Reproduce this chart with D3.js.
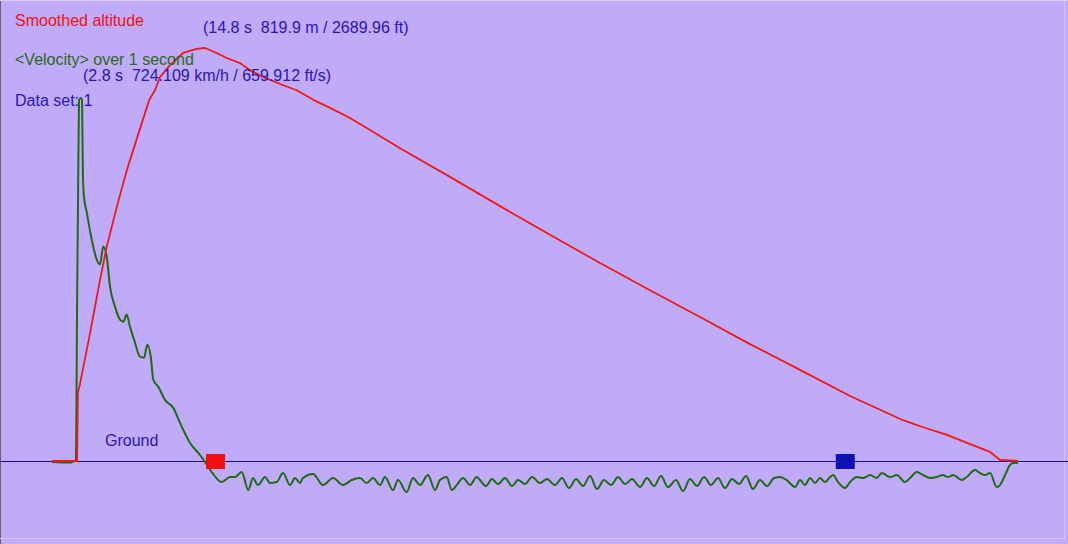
<!DOCTYPE html>
<html><head><meta charset="utf-8">
<script src="https://cdn.jsdelivr.net/npm/d3@7"></script>
<style>
html,body{margin:0;padding:0;background:#bfabf8;}
svg{display:block;}
text{font-family:"Liberation Sans",Arial,sans-serif;font-size:16px;white-space:pre;}
</style></head><body>
<svg id="c" width="1068" height="544"></svg>
<script>
// time (s) and altitude (m) of "Smoothed altitude"
const altTime = [0,2.32,2.42,2.51,2.71,3.68,4.64,5.29,6.26,7.22,8.19,9.16,9.41,9.96,10.44,11.41,12.67,13.99,14.8,15.93,16.9,18.18,19.15,20.44,22.37,23.67,25.27,26.89,28.82,30.43,33.66,38.49,43.33,48.16,53.0,57.83,62.67,67.5,72.34,77.18,82.3,84.24,86.56,88.49,90.72,91.68,93.42];
const altValue = [0,0,0,137,153,254,359,425,504,576,639,701,717,736,762,786,810,818,819.9,810,800,790,776,762,746,736,717,701,681,661,621,564,506,449,393,339,286,232,181,129,81,67,52,36,18,2,0];
// time (s) and velocity (km/h) of "<Velocity> over 1 second"
const velTime = [0,1.74,2.22,2.32,2.37,2.42,2.51,2.61,2.8,2.9,2.95,3.0,3.09,3.36,3.84,4.32,4.64,4.96,5.29,5.61,6.09,6.58,6.9,7.22,7.54,8.03,8.51,8.9,9.22,9.55,9.8,10.28,10.93,11.73,12.38,13.35,14.31,14.8,15.45,16.41,17.21,17.7,18.35,18.98,19.44,19.92,20.6,21.08,21.73,22.34,23.02,23.5,23.98,24.27,25.24,26.21,27.18,28.14,28.98,29.79,30.43,31.04,31.72,32.2,32.98,33.46,34.3,34.91,35.59,36.36,37.04,37.52,38.17,38.66,39.14,39.75,40.43,41.07,41.39,41.97,42.55,43.13,43.81,44.49,45.07,45.74,46.42,47.2,47.87,48.65,49.32,50.0,50.68,51.35,52.03,52.71,53.38,54.06,54.74,55.42,56.09,56.87,57.54,58.22,58.9,59.57,60.35,61.03,61.7,62.38,63.06,63.73,64.41,65.09,65.76,66.44,67.12,67.79,68.47,69.15,69.83,70.41,71.05,71.86,72.34,72.82,73.31,73.79,74.27,74.76,75.24,75.53,76.02,76.69,77.18,77.82,78.43,79.11,79.76,80.24,81.04,81.69,82.5,82.98,83.63,84.24,84.91,85.56,86.17,86.65,87.14,87.98,88.46,89.26,89.75,90.23,90.72,91.36,91.68,92.17,92.65,92.94,93.42];
const velValue = [-2,-3,0,0,122,301,495,720,724.109,720,640,560,528,496,442,402,392,428,408,348,308,282,278,292,268,236,208,206,232,208,162,148,122,106,76,36,12,-2,-22,-42,-32,-32,-22,-58,-34,-48,-32,-44,-42,-24,-48,-34,-44,-34,-26,-48,-34,-48,-38,-34,-44,-34,-48,-32,-58,-38,-62,-34,-48,-28,-58,-38,-32,-58,-48,-34,-48,-32,-38,-50,-36,-46,-34,-50,-38,-46,-32,-44,-36,-48,-34,-54,-36,-50,-30,-56,-38,-48,-32,-46,-36,-52,-34,-50,-30,-52,-38,-60,-36,-50,-32,-48,-34,-54,-36,-46,-30,-56,-38,-50,-34,-32,-38,-52,-38,-48,-34,-44,-34,-42,-32,-28,-42,-54,-42,-32,-34,-28,-34,-24,-32,-28,-42,-34,-22,-28,-34,-32,-28,-32,-28,-38,-32,-18,-24,-28,-24,-52,-48,-28,-8,-4,-4];
// marker times (s)
const markerTimes = [14.8, 75.7];
const markerColors = ["#f01010", "#1010b8"];
// labels
const labels = [
  {text:"Smoothed altitude", color:"#f01010", x:15, y:26},
  {text:"(14.8 s  819.9 m / 2689.96 ft)", color:"#2a14b8", x:203, y:33},
  {text:"<Velocity> over 1 second", color:"#2a6a14", x:15, y:65},
  {text:"(2.8 s  724.109 km/h / 659.912 ft/s)", color:"#2a14b8", x:83, y:81},
  {text:"Data set: 1", color:"#2a14b8", x:15, y:106},
  {text:"Ground", color:"#2a14b8", x:105, y:446}
];

const svg = d3.select("#c");
const W = 1068, H = 544;
svg.append("rect").attr("x",0).attr("y",0).attr("width",W).attr("height",H).attr("fill","#bfabf8");
// frame
svg.append("line").attr("x1",0.5).attr("x2",0.5).attr("y1",0).attr("y2",H).attr("stroke","#6e6068").attr("stroke-width",1);
svg.append("line").attr("x1",1064.5).attr("x2",1064.5).attr("y1",0).attr("y2",540).attr("stroke","#d4c6fb").attr("stroke-width",1);
svg.append("line").attr("x1",0).attr("x2",1065).attr("y1",538.5).attr("y2",538.5).attr("stroke","#d4c6fb").attr("stroke-width",1);
svg.append("line").attr("x1",0).attr("x2",W).attr("y1",0.5).attr("y2",0.5).attr("stroke","#d8ccfb").attr("stroke-width",1);

const x = d3.scaleLinear().domain([0, 93.42]).range([52, 1018]);
const yAlt = d3.scaleLinear().domain([0, 819.9]).range([461, 48]);
const yVel = d3.scaleLinear().domain([0, 724.109]).range([461, 98]);

// ground line
svg.append("line").attr("x1",0).attr("x2",W).attr("y1",yAlt(0)+0.5).attr("y2",yAlt(0)+0.5)
  .attr("stroke","#1e0c96").attr("stroke-width",1.2);

const velData = velTime.map((t,i)=>[t, velValue[i]]);
const altData = altTime.map((t,i)=>[t, altValue[i]]);

svg.append("path").datum(velData)
  .attr("d", d3.line().curve(d3.curveMonotoneX).x(d=>x(d[0])).y(d=>yVel(d[1])))
  .attr("fill","none").attr("stroke","#1f6a12").attr("stroke-width",2).attr("stroke-linejoin","round");
svg.append("path").datum(altData)
  .attr("d", d3.line().x(d=>x(d[0])).y(d=>yAlt(d[1])))
  .attr("fill","none").attr("stroke","#f01818").attr("stroke-width",1.8).attr("stroke-linejoin","round");

svg.selectAll("rect.marker").data(markerTimes).enter().append("rect").attr("class","marker")
  .attr("x", d=>x(d)+1).attr("y", yAlt(0)-7).attr("width",19).attr("height",15)
  .attr("fill",(d,i)=>markerColors[i]);

svg.selectAll("text.lbl").data(labels).enter().append("text").attr("class","lbl")
  .attr("x",d=>d.x).attr("y",d=>d.y).attr("fill",d=>d.color).text(d=>d.text);
</script>
</body></html>
